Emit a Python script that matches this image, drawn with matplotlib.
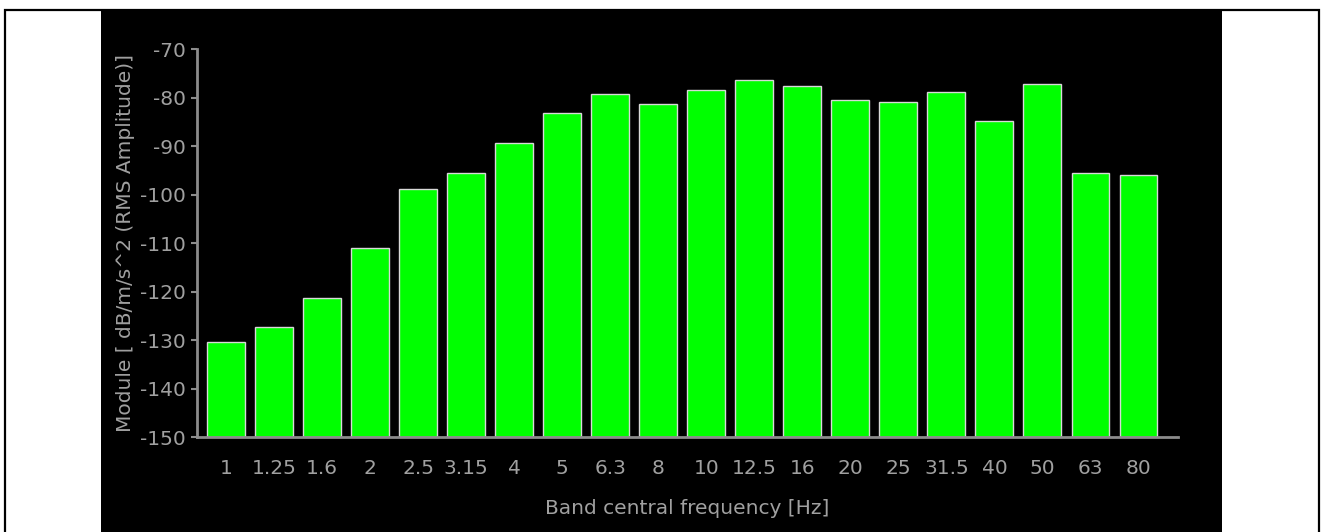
import matplotlib.pyplot as plt
from matplotlib.patches import Rectangle
import numpy as np

# Band data (1/3 octave)
bands = ['1', '1.25', '1.6', '2', '2.5', '3.15', '4', '5', '6.3', '8',
         '10', '12.5', '16', '20', '25', '31.5', '40', '50', '63', '80']
module_db = [-130.5, -127.4, -121.3, -111.0, -98.8, -95.5, -89.3, -83.1, -79.3, -81.3,
             -78.4, -76.3, -77.6, -80.5, -81.0, -78.9, -84.8, -77.2, -95.6, -96.0]
yticks = [-70, -80, -90, -100, -110, -120, -130, -140, -150]

plt.rcParams['axes.unicode_minus'] = False

W, H = 1323, 532
fig = plt.figure(figsize=(W / 100, H / 100), dpi=100, facecolor='white')

# black panel behind the chart + thin outer frame
fig.patches.append(Rectangle((101 / W, 0), (1222 - 101) / W, 1 - 10 / H,
                             transform=fig.transFigure, facecolor='black',
                             edgecolor='none', zorder=0))
fig.patches.append(Rectangle((4.5 / W, -0.1), (1318.5 - 4.5) / W, 1.1 - 10 / H,
                             transform=fig.transFigure, facecolor='none',
                             edgecolor='black', linewidth=1.6, zorder=1))

ax = fig.add_axes([197 / W, 1 - 437 / H, (1178 - 197) / W, (437 - 49) / H])
ax.set_facecolor('none')
ax.set_zorder(3)

x = np.arange(len(bands))
ax.bar(x, [v - (-150) for v in module_db], bottom=-150, width=0.79,
       color='#00ff00', edgecolor='#d8d8d8', linewidth=1.0, zorder=2)

ax.set_xlim(-0.604, 19.822)
ax.set_ylim(-150, -70)

grey = '#a0a0a0'
for s in ['top', 'right']:
    ax.spines[s].set_visible(False)
for s in ['left', 'bottom']:
    ax.spines[s].set_color('#8c8c8c')
    ax.spines[s].set_linewidth(2.0)

ax.set_yticks(yticks)
ax.set_yticklabels([str(t) for t in yticks])
ax.set_xticks(x)
ax.set_xticklabels(bands)
ax.tick_params(axis='y', colors=grey, labelsize=14.5, length=4, width=1.5, pad=4,
               color='#8c8c8c')
ax.tick_params(axis='x', colors=grey, labelsize=14.5, length=0, pad=16)

ax.set_xlabel('Band central frequency [Hz]', color=grey, fontsize=14.5)
ax.xaxis.set_label_coords(0.5, -0.16)
ax.set_ylabel('Module [ dB/m/s^2 (RMS Amplitude)]', color=grey, fontsize=14.5)
ax.yaxis.set_label_coords(-0.063, 0.5)

plt.savefig('out.png', dpi=100, facecolor=fig.get_facecolor())
